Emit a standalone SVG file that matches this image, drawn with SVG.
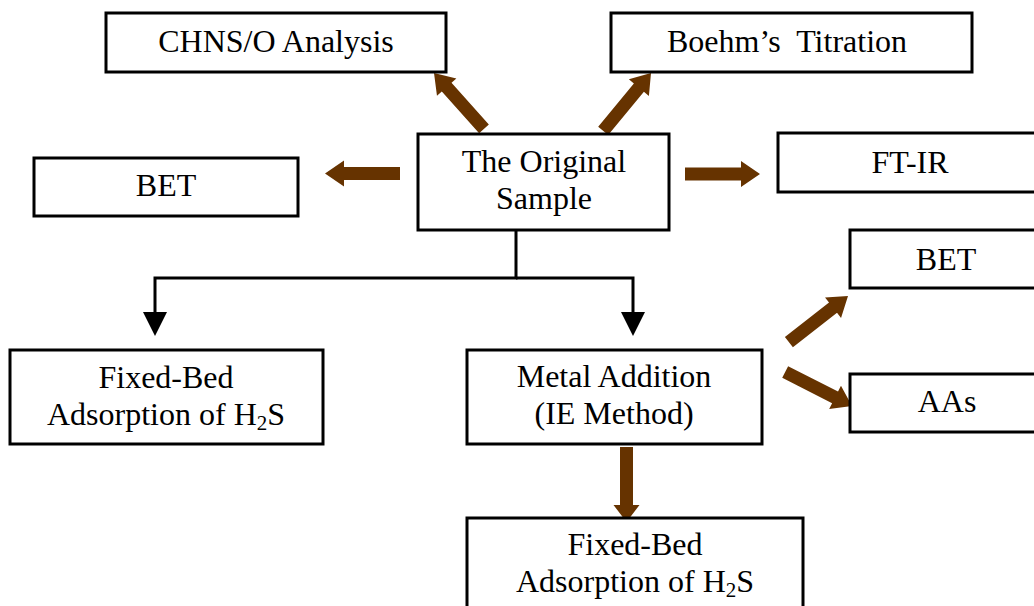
<svg xmlns="http://www.w3.org/2000/svg" width="1034" height="606" viewBox="0 0 1034 606">
  <style>
    .box { fill: #ffffff; stroke: #000000; stroke-width: 3; }
    .lbl { font-family: "Liberation Serif", "Times New Roman", serif; font-size: 32px; fill: #000000; text-anchor: middle; white-space: pre; }
    .sub { font-size: 21px; }
    .brown { fill: #663300; }
    .wire { fill: none; stroke: #000000; stroke-width: 3; }
    .tip { fill: #000000; }
  </style>
  <defs>
    <!-- thick block arrow pointing along +x, tip at origin, 75px long -->
    <polygon id="blockArrow" points="-75,-6.5 -19,-6.5 -19,-13 0,0 -19,13 -19,6.5 -75,6.5"/>
  </defs>

  <rect width="1034" height="606" fill="#ffffff"/>

  <g id="connectors">
    <!-- brown block arrows -->
    <use href="#blockArrow" class="brown" transform="translate(434,73) rotate(-131.8)"/>
    <use href="#blockArrow" class="brown" transform="translate(651,73) rotate(-50.4)"/>
    <use href="#blockArrow" class="brown" transform="translate(325,173.5) rotate(180)"/>
    <use href="#blockArrow" class="brown" transform="translate(760,174) rotate(0)"/>
    <use href="#blockArrow" class="brown" transform="translate(848,296) rotate(-38)"/>
    <use href="#blockArrow" class="brown" transform="translate(852,406) rotate(27)"/>
    <polygon class="brown" points="620,447 633,447 633,505 639.5,505 626.5,522 613.5,505 620,505"/>

    <!-- black split connector -->
    <polyline class="wire" points="516,230 516,278 155,278 155,313"/>
    <polyline class="wire" points="516,278 633,278 633,313"/>
    <polygon class="tip" points="143,312 167,312 155,336"/>
    <polygon class="tip" points="621,312 645,312 633,336"/>
  </g>

  <g id="chns">
    <rect class="box" x="106" y="13" width="340" height="59"/>
    <text class="lbl" x="276" y="52">CHNS/O Analysis</text>
  </g>

  <g id="boehm">
    <rect class="box" x="611" y="13" width="361" height="59"/>
    <text class="lbl" x="787" y="52">Boehm’s  Titration</text>
  </g>

  <g id="original">
    <rect class="box" x="418" y="134" width="251" height="96"/>
    <text class="lbl" x="544" y="172">The Original</text>
    <text class="lbl" x="544" y="209">Sample</text>
  </g>

  <g id="bet-left">
    <rect class="box" x="34" y="158" width="264" height="58"/>
    <text class="lbl" x="166" y="196">BET</text>
  </g>

  <g id="ftir">
    <rect class="box" x="778" y="133" width="270" height="59"/>
    <text class="lbl" x="910" y="173">FT-IR</text>
  </g>

  <g id="bet-right">
    <rect class="box" x="850" y="230" width="200" height="58"/>
    <text class="lbl" x="946" y="270">BET</text>
  </g>

  <g id="fixed-bed-left">
    <rect class="box" x="10" y="350" width="313" height="94"/>
    <text class="lbl" x="166" y="388">Fixed-Bed</text>
    <text class="lbl" x="166" y="425">Adsorption of H<tspan class="sub" dy="5">2</tspan><tspan dy="-5">S</tspan></text>
  </g>

  <g id="metal">
    <rect class="box" x="467" y="350" width="295" height="94"/>
    <text class="lbl" x="614" y="387">Metal Addition</text>
    <text class="lbl" x="614" y="424">(IE Method)</text>
  </g>

  <g id="aas">
    <rect class="box" x="850" y="374" width="200" height="58"/>
    <text class="lbl" x="947" y="412">AAs</text>
  </g>

  <g id="fixed-bed-bottom">
    <rect class="box" x="467" y="518" width="336" height="100"/>
    <text class="lbl" x="635" y="555">Fixed-Bed</text>
    <text class="lbl" x="635" y="592">Adsorption of H<tspan class="sub" dy="5">2</tspan><tspan dy="-5">S</tspan></text>
  </g>
</svg>
